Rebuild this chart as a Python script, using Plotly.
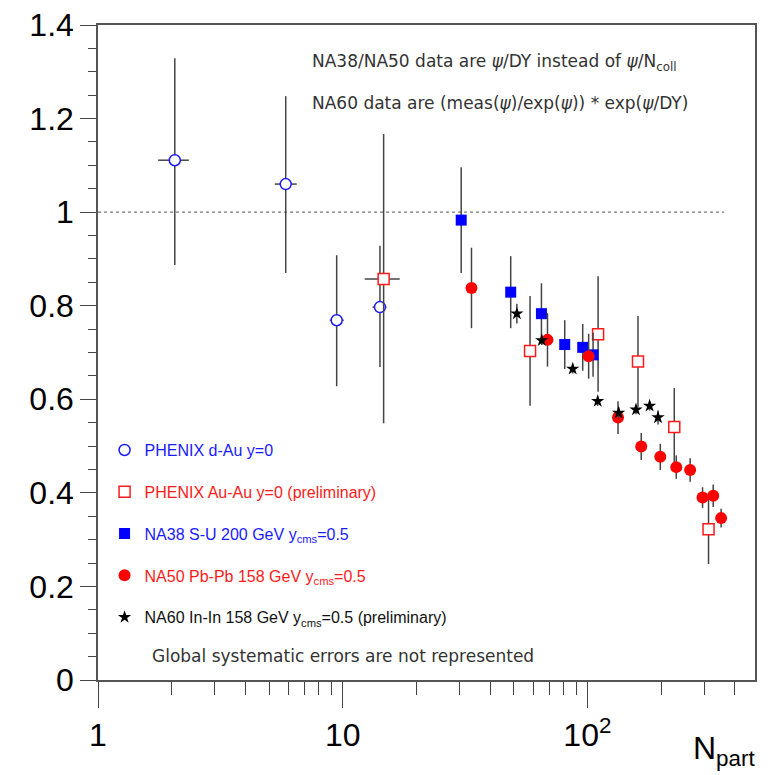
import plotly.graph_objects as go

# ---------------- data ----------------
dau_x = [2.06, 5.85, 9.45, 14.2]
dau_y = [1.111, 1.06, 0.769, 0.797]
dau_eyp = [0.218, 0.188, 0.139, 0.131]
dau_eym = [0.224, 0.19, 0.141, 0.128]
dau_exp = [0.29, 0.64, 0.65, 0.9]
dau_exm = [0.30, 0.57, 0.6, 0.95]

auau_x = [14.7, 58.3, 110.6, 161, 226.5, 312.7]
auau_y = [0.857, 0.703, 0.739, 0.681, 0.541, 0.322]
auau_eyp = [0.31, 0.118, 0.124, 0.097, 0.083, 0.073]
auau_eym = [0.308, 0.117, 0.123, 0.098, 0.082, 0.074]
auau_ex = [2.4, 0, 0, 0, 0, 0]

na38_x = [30.5, 48.6, 64.9, 80.8, 95.7, 105.5]
na38_y = [0.983, 0.829, 0.783, 0.717, 0.711, 0.695]
na38_ey = [0.113, 0.077, 0.065, 0.052, 0.05, 0.047]

na50_x = [33.6, 68.7, 101.2, 133.4, 166, 198.6, 230.8, 263, 295.6, 326.8, 352]
na50_y = [0.838, 0.727, 0.692, 0.561, 0.499, 0.477, 0.455, 0.449, 0.39, 0.394, 0.346]
na50_ey = [0.086, 0.057, 0.048, 0.035, 0.029, 0.028, 0.025, 0.025, 0.022, 0.024, 0.02]

na60_x = [51.5, 65.1, 87.1, 110.2, 134.2, 158, 179.6, 194.4]
na60_y = [0.783, 0.726, 0.665, 0.596, 0.571, 0.578, 0.586, 0.561]
na60_ey = [0.021, 0.01, 0.01, 0.01, 0.012, 0.01, 0.01, 0.015]

ref_x = [1, 362]
ref_y = [1, 1]

y_ticks = [0, 0.2, 0.4, 0.6, 0.8, 1.0, 1.2, 1.4]
y_ticktext = ["0", "0.2", "0.4", "0.6", "0.8", "1", "1.2", "1.4"]
x_ticks = [1, 10, 100]
x_ticktext = ["1", "10", "10<sup>2</sup>"]
x_minor = [2, 3, 4, 5, 6, 7, 8, 9, 20, 30, 40, 50, 60, 70, 80, 90, 200, 300, 400]

BLUE = "#1a1aff"
RED = "#ff1a1a"
ERR = "#444444"
LEG_FONT = "Liberation Sans, Arial, sans-serif"
NOTE_FONT = "DejaVu Sans, sans-serif"

fig = go.Figure()

fig.add_trace(go.Scatter(x=ref_x, y=ref_y, mode="lines",
                         line=dict(color="#777777", width=1.3, dash="dot"),
                         showlegend=False, hoverinfo="skip"))

fig.add_trace(go.Scatter(
    x=dau_x, y=dau_y, mode="markers",
    name='<span style="color:%s">PHENIX d-Au y=0</span>' % BLUE,
    legendgroup="a",
    marker=dict(symbol="circle", size=11, color="white", line=dict(color=BLUE, width=1.5)),
    error_y=dict(type="data", array=dau_eyp, arrayminus=dau_eym, color=ERR, thickness=1.5, width=0),
    error_x=dict(type="data", array=dau_exp, arrayminus=dau_exm, color=ERR, thickness=1.5, width=0)))

fig.add_trace(go.Scatter(
    x=auau_x, y=auau_y, mode="markers",
    name='<span style="color:%s">PHENIX Au-Au y=0 (preliminary)</span>' % RED,
    legendgroup="b",
    marker=dict(symbol="square", size=11, color="white", line=dict(color=RED, width=1.5)),
    error_y=dict(type="data", array=auau_eyp, arrayminus=auau_eym, color=ERR, thickness=1.5, width=0),
    error_x=dict(type="data", array=auau_ex, color=ERR, thickness=1.5, width=0)))

fig.add_trace(go.Scatter(
    x=na38_x, y=na38_y, mode="markers",
    name='<span style="color:%s">NA38 S-U 200 GeV y<sub>cms</sub>=0.5</span>' % BLUE,
    legendgroup="c",
    marker=dict(symbol="square", size=11, color="#0000ff", line=dict(width=0)),
    error_y=dict(type="data", array=na38_ey, color=ERR, thickness=1.5, width=0)))

fig.add_trace(go.Scatter(
    x=na50_x, y=na50_y, mode="markers",
    name='<span style="color:%s">NA50 Pb-Pb 158 GeV y<sub>cms</sub>=0.5</span>' % RED,
    legendgroup="d",
    marker=dict(symbol="circle", size=12, color="#ff0000", line=dict(width=0)),
    error_y=dict(type="data", array=na50_ey, color=ERR, thickness=1.5, width=0)))

fig.add_trace(go.Scatter(
    x=na60_x, y=na60_y, mode="markers",
    name='<span style="color:#111111">NA60 In-In 158 GeV y<sub>cms</sub>=0.5 (preliminary)</span>',
    legendgroup="e",
    marker=dict(symbol="star", size=10, color="black", line=dict(width=0)),
    error_y=dict(type="data", array=na60_ey, color=ERR, thickness=1.5, width=0)))

# page body has an 8px margin, so the figure is 770x767 and sits at (8, 8)
fig.update_layout(
    width=770, height=767,
    margin=dict(l=90, r=23, t=17, b=95, autoexpand=False),
    paper_bgcolor="white", plot_bgcolor="white",
    showlegend=True,
    legend=dict(x=0.01, xanchor="left", y=0.377, yanchor="top",
                font=dict(family=LEG_FONT, size=16, color="#111111"),
                bgcolor="rgba(0,0,0,0)", tracegroupgap=18,
                traceorder="grouped"),
    xaxis=dict(type="log", range=[0, 2.685], automargin=False,
               tickmode="array", tickvals=x_ticks, ticktext=x_ticktext,
               ticks="outside", ticklen=26, tickwidth=1.3, tickcolor="#444444",
               tickfont=dict(family=LEG_FONT, size=32, color="black"),
               ticklabeloverflow="allow",
               showgrid=False, zeroline=False,
               showline=True, linecolor="#555555", linewidth=1.5, mirror=True,
               minor=dict(tickmode="array", tickvals=x_minor,
                          ticks="outside", ticklen=13, tickwidth=1.3, tickcolor="#444444", showgrid=False)),
    yaxis=dict(range=[0, 1.4], automargin=False,
               tickmode="array", tickvals=y_ticks, ticktext=y_ticktext,
               ticks="outside", ticklen=16, tickwidth=1.3, tickcolor="#444444",
               tickfont=dict(family=LEG_FONT, size=32, color="black"),
               ticklabeloverflow="allow",
               showgrid=False, zeroline=False,
               showline=True, linecolor="#555555", linewidth=1.5, mirror=True,
               minor=dict(dtick=0.05, ticks="outside", ticklen=8, tickwidth=1.3,
                          tickcolor="#444444", showgrid=False)),
    annotations=[
        dict(xref="paper", yref="paper", x=0.3227, y=0.9435, xanchor="left", yanchor="middle",
             showarrow=False,
             text="NA38/NA50 data are <i>ψ</i>/DY instead of <i>ψ</i>/N<sub>coll</sub>",
             font=dict(family=NOTE_FONT, size=17, color="#333333")),
        dict(xref="paper", yref="paper", x=0.3227, y=0.881, xanchor="left", yanchor="middle",
             showarrow=False,
             text="NA60 data are (meas(<i>ψ</i>)/exp(<i>ψ</i>)) * exp(<i>ψ</i>/DY)",
             font=dict(family=NOTE_FONT, size=17, color="#333333")),
        dict(xref="paper", yref="paper", x=0.079, y=0.0366, xanchor="left", yanchor="middle",
             showarrow=False,
             text="Global systematic errors are not represented",
             font=dict(family=NOTE_FONT, size=17, color="#333333")),
        dict(xref="paper", yref="paper", x=1.003, y=-0.108, xanchor="right", yanchor="middle",
             showarrow=False,
             text="N<sub>part</sub>",
             font=dict(family=LEG_FONT, size=32, color="black")),
    ],
)

fig.write_html("out.html")
